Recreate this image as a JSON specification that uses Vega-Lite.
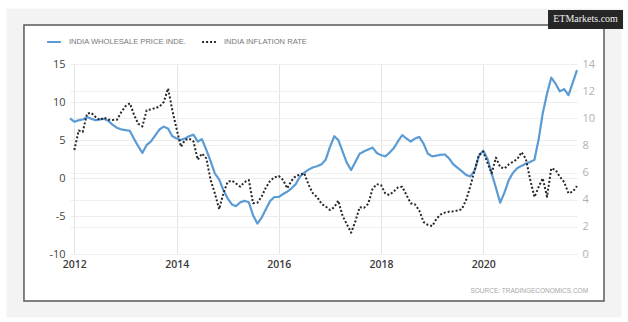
{
  "$schema": "https://vega.github.io/schema/vega-lite/v6.json",
  "width": 507,
  "height": 190,
  "autosize": "none",
  "padding": {"left": 70, "top": 64, "right": 51, "bottom": 68},
  "background": "#ffffff",
  "config": {"view": {"stroke": null}, "font": "Open Sans"},
  "data": {"values": [
      {"d": "2011/12/01", "wpi": 7.85},
      {"d": "2012/01/01", "wpi": 7.4, "cpi": 7.66},
      {"d": "2012/02/01", "wpi": 7.6, "cpi": 9.1},
      {"d": "2012/03/01", "wpi": 7.7, "cpi": 9.0},
      {"d": "2012/04/01", "wpi": 8.0, "cpi": 10.35},
      {"d": "2012/05/01", "wpi": 7.8, "cpi": 10.4},
      {"d": "2012/06/01", "wpi": 7.6, "cpi": 10.1},
      {"d": "2012/07/01", "wpi": 7.7, "cpi": 9.87},
      {"d": "2012/08/01", "wpi": 7.8, "cpi": 10.05},
      {"d": "2012/09/01", "wpi": 7.5, "cpi": 9.9},
      {"d": "2012/10/01", "wpi": 7.0, "cpi": 9.88},
      {"d": "2012/11/01", "wpi": 6.6, "cpi": 9.9},
      {"d": "2012/12/01", "wpi": 6.4, "cpi": 10.45},
      {"d": "2013/01/01", "wpi": 6.3, "cpi": 10.9},
      {"d": "2013/02/01", "wpi": 6.2, "cpi": 11.1},
      {"d": "2013/03/01", "wpi": 5.2, "cpi": 10.3},
      {"d": "2013/04/01", "wpi": 4.2, "cpi": 9.6},
      {"d": "2013/05/01", "wpi": 3.3, "cpi": 9.4},
      {"d": "2013/06/01", "wpi": 4.35, "cpi": 10.6},
      {"d": "2013/07/01", "wpi": 4.8, "cpi": 10.65},
      {"d": "2013/08/01", "wpi": 5.6, "cpi": 10.75},
      {"d": "2013/09/01", "wpi": 6.4, "cpi": 10.86},
      {"d": "2013/10/01", "wpi": 6.75, "cpi": 11.2},
      {"d": "2013/11/01", "wpi": 6.5, "cpi": 12.2},
      {"d": "2013/12/01", "wpi": 5.5, "cpi": 10.6},
      {"d": "2014/01/01", "wpi": 5.2, "cpi": 9.2},
      {"d": "2014/02/01", "wpi": 5.0, "cpi": 7.9},
      {"d": "2014/03/01", "wpi": 5.2, "cpi": 8.4},
      {"d": "2014/04/01", "wpi": 5.5, "cpi": 8.5},
      {"d": "2014/05/01", "wpi": 5.7, "cpi": 8.3},
      {"d": "2014/06/01", "wpi": 4.8, "cpi": 6.95},
      {"d": "2014/07/01", "wpi": 5.1, "cpi": 7.4},
      {"d": "2014/08/01", "wpi": 3.7, "cpi": 7.05},
      {"d": "2014/09/01", "wpi": 2.2, "cpi": 5.45},
      {"d": "2014/10/01", "wpi": 0.6, "cpi": 4.47},
      {"d": "2014/11/01", "wpi": -0.2, "cpi": 3.3},
      {"d": "2014/12/01", "wpi": -1.6, "cpi": 4.47},
      {"d": "2015/01/01", "wpi": -2.7, "cpi": 5.33},
      {"d": "2015/02/01", "wpi": -3.5, "cpi": 5.4},
      {"d": "2015/03/01", "wpi": -3.7, "cpi": 5.2},
      {"d": "2015/04/01", "wpi": -3.2, "cpi": 4.96},
      {"d": "2015/05/01", "wpi": -3.0, "cpi": 5.3},
      {"d": "2015/06/01", "wpi": -3.2, "cpi": 5.45},
      {"d": "2015/07/01", "wpi": -4.9, "cpi": 3.74},
      {"d": "2015/08/01", "wpi": -6.0, "cpi": 3.78},
      {"d": "2015/09/01", "wpi": -5.2, "cpi": 4.25},
      {"d": "2015/10/01", "wpi": -4.1, "cpi": 4.9},
      {"d": "2015/11/01", "wpi": -3.0, "cpi": 5.4},
      {"d": "2015/12/01", "wpi": -2.5, "cpi": 5.65},
      {"d": "2016/01/01", "wpi": -2.5, "cpi": 5.75},
      {"d": "2016/02/01", "wpi": -2.1, "cpi": 5.45},
      {"d": "2016/03/01", "wpi": -1.8, "cpi": 4.84},
      {"d": "2016/04/01", "wpi": -1.36, "cpi": 5.4},
      {"d": "2016/05/01", "wpi": -0.8, "cpi": 5.75},
      {"d": "2016/06/01", "wpi": 0.2, "cpi": 5.85},
      {"d": "2016/07/01", "wpi": 0.7, "cpi": 5.95},
      {"d": "2016/08/01", "wpi": 1.1, "cpi": 5.1},
      {"d": "2016/09/01", "wpi": 1.4, "cpi": 4.47},
      {"d": "2016/10/01", "wpi": 1.55, "cpi": 4.2},
      {"d": "2016/11/01", "wpi": 1.8, "cpi": 3.7},
      {"d": "2016/12/01", "wpi": 2.4, "cpi": 3.5},
      {"d": "2017/01/01", "wpi": 4.1, "cpi": 3.24},
      {"d": "2017/02/01", "wpi": 5.5, "cpi": 3.45},
      {"d": "2017/03/01", "wpi": 5.0, "cpi": 3.93},
      {"d": "2017/04/01", "wpi": 3.5, "cpi": 2.8},
      {"d": "2017/05/01", "wpi": 2.0, "cpi": 2.2},
      {"d": "2017/06/01", "wpi": 1.05, "cpi": 1.57},
      {"d": "2017/07/01", "wpi": 2.1, "cpi": 2.4},
      {"d": "2017/08/01", "wpi": 3.2, "cpi": 3.45},
      {"d": "2017/09/01", "wpi": 3.5, "cpi": 3.4},
      {"d": "2017/10/01", "wpi": 3.75, "cpi": 3.7},
      {"d": "2017/11/01", "wpi": 4.0, "cpi": 4.8},
      {"d": "2017/12/01", "wpi": 3.3, "cpi": 5.15},
      {"d": "2018/01/01", "wpi": 3.0, "cpi": 5.07},
      {"d": "2018/02/01", "wpi": 2.85, "cpi": 4.45},
      {"d": "2018/03/01", "wpi": 3.3, "cpi": 4.35},
      {"d": "2018/04/01", "wpi": 3.9, "cpi": 4.6},
      {"d": "2018/05/01", "wpi": 4.8, "cpi": 4.9},
      {"d": "2018/06/01", "wpi": 5.65, "cpi": 4.95},
      {"d": "2018/07/01", "wpi": 5.2, "cpi": 4.35},
      {"d": "2018/08/01", "wpi": 4.8, "cpi": 3.74},
      {"d": "2018/09/01", "wpi": 5.2, "cpi": 3.65},
      {"d": "2018/10/01", "wpi": 5.4, "cpi": 3.2},
      {"d": "2018/11/01", "wpi": 4.5, "cpi": 2.35},
      {"d": "2018/12/01", "wpi": 3.2, "cpi": 2.15},
      {"d": "2019/01/01", "wpi": 2.85, "cpi": 2.06},
      {"d": "2019/02/01", "wpi": 2.95, "cpi": 2.6},
      {"d": "2019/03/01", "wpi": 3.05, "cpi": 2.9},
      {"d": "2019/04/01", "wpi": 3.1, "cpi": 3.05},
      {"d": "2019/05/01", "wpi": 2.6, "cpi": 3.12},
      {"d": "2019/06/01", "wpi": 1.8, "cpi": 3.15},
      {"d": "2019/07/01", "wpi": 1.35, "cpi": 3.2},
      {"d": "2019/08/01", "wpi": 0.9, "cpi": 3.3},
      {"d": "2019/09/01", "wpi": 0.4, "cpi": 4.0},
      {"d": "2019/10/01", "wpi": 0.2, "cpi": 5.0},
      {"d": "2019/11/01", "wpi": 1.0, "cpi": 6.2},
      {"d": "2019/12/01", "wpi": 2.9, "cpi": 7.3},
      {"d": "2020/01/01", "wpi": 3.6, "cpi": 7.55},
      {"d": "2020/02/01", "wpi": 2.5, "cpi": 6.7},
      {"d": "2020/03/01", "wpi": 0.6, "cpi": 5.95},
      {"d": "2020/04/01", "wpi": -1.3, "cpi": 7.1},
      {"d": "2020/05/01", "wpi": -3.25, "cpi": 6.4},
      {"d": "2020/06/01", "wpi": -1.9, "cpi": 6.3},
      {"d": "2020/07/01", "wpi": -0.3, "cpi": 6.6},
      {"d": "2020/08/01", "wpi": 0.7, "cpi": 6.8},
      {"d": "2020/09/01", "wpi": 1.3, "cpi": 7.0},
      {"d": "2020/10/01", "wpi": 1.6, "cpi": 7.5},
      {"d": "2020/11/01", "wpi": 1.9, "cpi": 7.0},
      {"d": "2020/12/01", "wpi": 2.1, "cpi": 5.5},
      {"d": "2021/01/01", "wpi": 2.4, "cpi": 4.2},
      {"d": "2021/02/01", "wpi": 5.2, "cpi": 4.96},
      {"d": "2021/03/01", "wpi": 8.5, "cpi": 5.58},
      {"d": "2021/04/01", "wpi": 11.1, "cpi": 4.22},
      {"d": "2021/05/01", "wpi": 13.2, "cpi": 6.31},
      {"d": "2021/06/01", "wpi": 12.4, "cpi": 6.19},
      {"d": "2021/07/01", "wpi": 11.4, "cpi": 5.7},
      {"d": "2021/08/01", "wpi": 11.7, "cpi": 5.3},
      {"d": "2021/09/01", "wpi": 10.9, "cpi": 4.47},
      {"d": "2021/10/01", "wpi": 12.5, "cpi": 4.59},
      {"d": "2021/11/01", "wpi": 14.2, "cpi": 5.0}
  ]},
  "layer": [
    {
      "data": {"values": [{"t": "x"}]},
      "mark": {"type": "rect", "fill": "transparent", "stroke": "#f3f3f3", "strokeWidth": 17},
      "encoding": {
        "x": {"datum": {"year": 2010, "month": 11, "date": 3}, "type": "temporal"},
        "x2": {"datum": {"year": 2022, "month": 7, "date": 16}},
        "y": {"datum": 21.18, "type": "quantitative", "scale": {"domain": [-10, 15], "nice": false, "zero": false}, "axis": null},
        "y2": {"datum": -17.24}
      }
    },
    {
      "data": {"values": [{"t": "x"}]},
      "mark": {"type": "rect", "fill": "transparent", "stroke": "#5a5a5a", "strokeWidth": 1.5},
      "encoding": {
        "x": {"datum": {"year": 2011, "month": 1, "date": 6}, "type": "temporal"},
        "x2": {"datum": {"year": 2022, "month": 5, "date": 13}},
        "y": {"datum": 20.13, "type": "quantitative", "scale": {"domain": [-10, 15], "nice": false, "zero": false}, "axis": null},
        "y2": {"datum": -16.18}
      }
    },
    {
      "transform": [{"fold": ["wpi", "cpi"], "as": ["key", "val"]}, {"filter": "datum.key == 'wpi'"}],
      "mark": {"type": "line", "strokeWidth": 2.2, "strokeJoin": "round"},
      "encoding": {
        "x": {
          "field": "d", "type": "temporal",
          "scale": {"domain": [{"year": 2011, "month": 12, "date": 1}, {"year": 2021, "month": 11, "date": 1}]},
          "axis": {
            "values": [{"year": 2012}, {"year": 2014}, {"year": 2016}, {"year": 2018}, {"year": 2020}],
            "format": "%Y", "title": null, "ticks": false, "domain": false, "grid": true,
            "labelColor": "#3a3a3a", "labelFontSize": 10.5, "labelFontWeight": 600, "labelPadding": 5,
            "gridColor": "#e4e4e4", "gridWidth": 1
          }
        },
        "y": {
          "field": "val", "type": "quantitative",
          "scale": {"domain": [-10, 15], "nice": false, "zero": false},
          "axis": {
            "orient": "left", "values": [-10, -5, 0, 5, 10, 15], "title": null, "ticks": false, "domain": false, "grid": true,
            "labelExpr": "datum.value < 0 ? '-' + abs(datum.value) : datum.label",
            "labelColor": "#444444", "labelFontSize": 11, "labelPadding": 5, "gridColor": "#ececec"
          }
        },
        "color": {
          "field": "key", "type": "nominal",
          "scale": {"domain": ["wpi", "cpi"], "range": ["#5b9bd5", "#262626"]},
          "legend": {
            "orient": "none", "legendX": -24, "legendY": -30, "direction": "horizontal", "title": null,
            "symbolType": "stroke", "symbolSize": 190, "symbolStrokeWidth": 2,
            "labelFont": "Liberation Sans", "labelFontSize": 7.6, "labelColor": "#777777", "labelOffset": 7, "labelLimit": 0,
            "columnPadding": 11,
            "labelExpr": "datum.label == 'wpi' ? 'INDIA WHOLESALE PRICE INDE.' : 'INDIA INFLATION RATE'"
          }
        },
        "strokeDash": {
          "field": "key", "type": "nominal",
          "scale": {"domain": ["wpi", "cpi"], "range": [[1, 0], [2, 2]]},
          "legend": {
            "orient": "none", "legendX": -24, "legendY": -30, "direction": "horizontal", "title": null,
            "symbolType": "stroke", "symbolSize": 190, "symbolStrokeWidth": 2,
            "labelFont": "Liberation Sans", "labelFontSize": 7.6, "labelColor": "#777777", "labelOffset": 7, "labelLimit": 0,
            "columnPadding": 11,
            "labelExpr": "datum.label == 'wpi' ? 'INDIA WHOLESALE PRICE INDE.' : 'INDIA INFLATION RATE'"
          }
        }
      }
    },
    {
      "transform": [{"fold": ["wpi", "cpi"], "as": ["key", "val"]}, {"filter": "datum.key == 'cpi' && isValid(datum.val)"}],
      "mark": {"type": "line", "strokeWidth": 2, "strokeJoin": "round"},
      "encoding": {
        "x": {"field": "d", "type": "temporal"},
        "y": {
          "field": "val", "type": "quantitative",
          "scale": {"domain": [0, 14], "nice": false, "zero": false},
          "axis": {
            "orient": "right", "values": [0, 2, 4, 6, 8, 10, 12, 14], "title": null, "ticks": false, "domain": false, "grid": true,
            "labelColor": "#b0b0b0", "labelFontSize": 11, "labelPadding": 5, "gridColor": "#efefef"
          }
        },
        "color": {"field": "key", "type": "nominal"},
        "strokeDash": {"field": "key", "type": "nominal"}
      }
    },
    {
      "data": {"values": [{"t": "x"}]},
      "mark": {"type": "text", "text": "SOURCE:   TRADINGECONOMICS.COM", "align": "right", "baseline": "middle", "font": "Liberation Sans", "fontSize": 6.5, "color": "#a8a8a8"},
      "encoding": {
        "x": {"datum": {"year": 2022, "month": 1, "date": 19}, "type": "temporal"},
        "y": {"datum": -14.87, "type": "quantitative", "scale": {"domain": [-10, 15], "nice": false, "zero": false}, "axis": null}
      }
    },
    {
      "data": {"values": [{"t": "x"}]},
      "mark": {"type": "rect", "fill": "#262626"},
      "encoding": {
        "x": {"datum": {"year": 2021, "month": 4, "date": 8}, "type": "temporal"},
        "x2": {"datum": {"year": 2022, "month": 9, "date": 26}},
        "y": {"datum": 22.11, "type": "quantitative", "scale": {"domain": [-10, 15], "nice": false, "zero": false}, "axis": null},
        "y2": {"datum": 19.61}
      }
    },
    {
      "data": {"values": [{"t": "x"}]},
      "mark": {"type": "text", "text": "ETMarkets.com", "align": "center", "baseline": "middle", "font": "Liberation Serif", "fontSize": 10, "color": "#f0f0f0"},
      "encoding": {
        "x": {"datum": {"year": 2022, "month": 1, "date": 1}, "type": "temporal"},
        "y": {"datum": 20.86, "type": "quantitative", "scale": {"domain": [-10, 15], "nice": false, "zero": false}, "axis": null}
      }
    }
  ],
  "resolve": {"scale": {"y": "independent"}}
}
